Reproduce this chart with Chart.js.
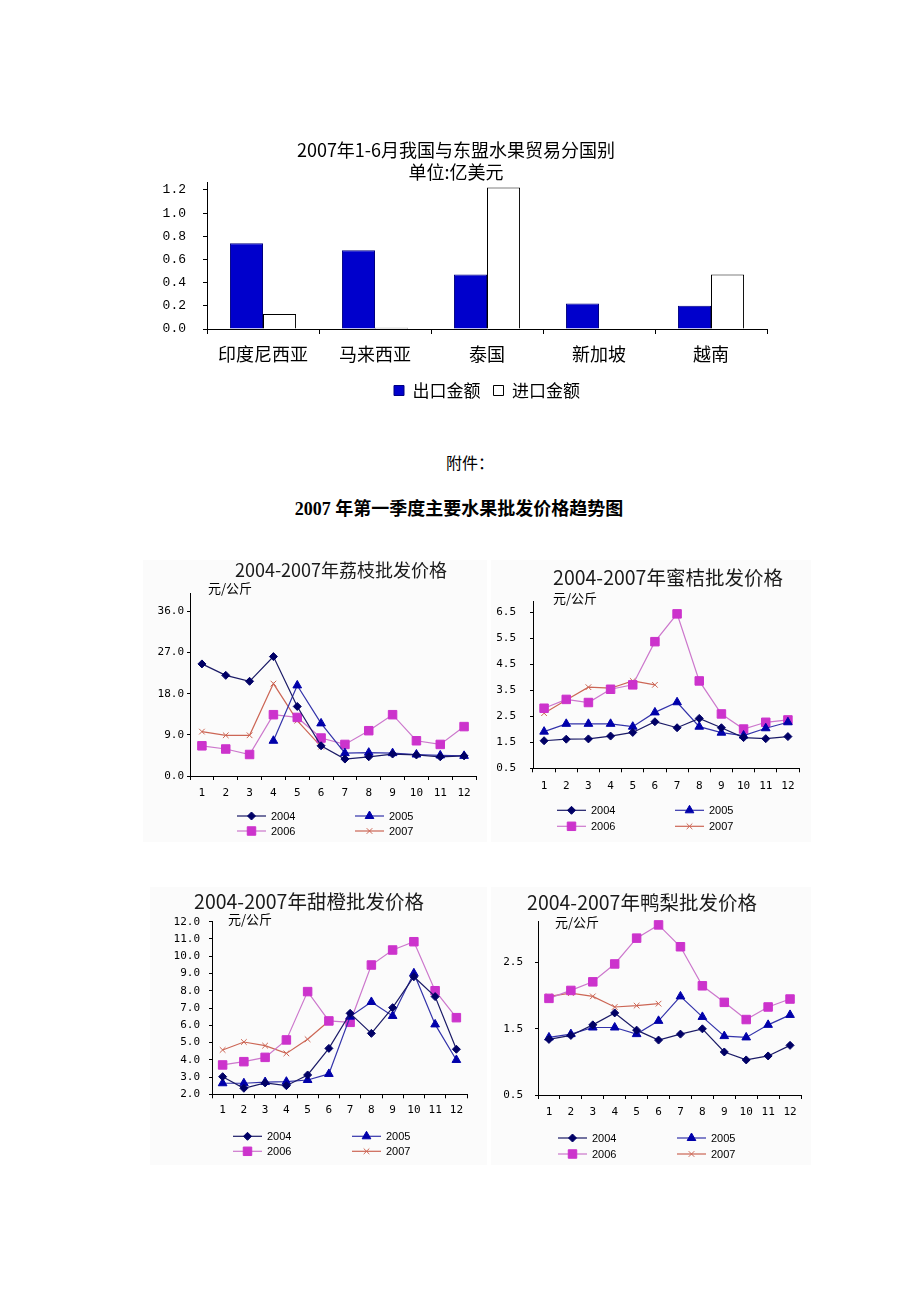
<!DOCTYPE html>
<html>
<head>
<meta charset="utf-8">
<script src="https://cdn.jsdelivr.net/npm/chart.js@4.4.1/dist/chart.umd.min.js"></script>
<style>
  body { margin: 0; background: #fff; width: 920px; height: 1302px; position: relative; overflow: hidden; font-family: "Noto Sans CJK SC", sans-serif; }
  canvas { position: absolute; }
  .panel { position: absolute; background: #fbfbfb; }
  .txt { position: absolute; white-space: nowrap; transform: translate(-50%, -50%); color: #000; }
</style>
</head>
<body>
<div class="panel" style="left:143px;top:560px;width:344px;height:282px"></div>
<div class="panel" style="left:491px;top:560px;width:320px;height:282px"></div>
<div class="panel" style="left:150px;top:887px;width:337px;height:278px"></div>
<div class="panel" style="left:491px;top:887px;width:320px;height:278px"></div>

<canvas id="trade"></canvas>
<div class="txt" style="left:470px;top:462px;font-size:16px">附件：</div>
<div class="txt" style="left:459px;top:507px;font-size:18px;font-weight:bold;font-family:'Liberation Serif','Noto Sans CJK SC',serif">2007 年第一季度主要水果批发价格趋势图</div>

<canvas id="lychee"></canvas>
<canvas id="mandarin"></canvas>
<canvas id="orange"></canvas>
<canvas id="pear"></canvas>

<script>
// ---- trade by country (bar chart) ----
const countries = ['印度尼西亚', '马来西亚', '泰国', '新加坡', '越南'];
const exportValues = [0.74, 0.68, 0.47, 0.22, 0.20];
const importValues = [0.13, 0.01, 1.22, null, 0.47];
const tradeTicks = [0, 0.2, 0.4, 0.6, 0.8, 1.0, 1.2];

// ---- wholesale prices by month ----
const months = ['1', '2', '3', '4', '5', '6', '7', '8', '9', '10', '11', '12'];
const years = ['2004', '2005', '2006', '2007'];

const lychee2004 = [24.5, 22.0, 20.7, 26.1, 15.2, 6.6, 3.7, 4.2, 4.8, 4.6, 4.2, 4.4];
const lychee2005 = [null, null, null, 7.7, 19.8, 11.5, 5.0, 5.1, 5.0, 4.7, 4.5, 4.4];
const lychee2006 = [6.6, 5.9, 4.7, 13.4, 12.8, 8.3, 6.9, 9.9, 13.4, 7.7, 6.9, 10.8];
const lychee2007 = [9.7, 8.9, 8.9, 20.2, 12.1, 6.4];
const lycheeTicks = [0, 9, 18, 27, 36];

const mandarin2004 = [1.56, 1.62, 1.63, 1.74, 1.88, 2.29, 2.06, 2.42, 2.06, 1.68, 1.64, 1.72];
const mandarin2005 = [1.91, 2.21, 2.21, 2.21, 2.10, 2.65, 3.04, 2.10, 1.87, 1.76, 2.04, 2.27];
const mandarin2006 = [2.81, 3.15, 3.03, 3.54, 3.71, 5.37, 6.44, 3.86, 2.59, 2.01, 2.27, 2.36];
const mandarin2007 = [2.62, 3.13, 3.62, 3.58, 3.86, 3.71];
const mandarinTicks = [0.5, 1.5, 2.5, 3.5, 4.5, 5.5, 6.5];

const orange2004 = [3.02, 2.35, 2.66, 2.50, 3.12, 4.66, 6.69, 5.53, 7.02, 8.81, 7.66, 4.61];
const orange2005 = [2.64, 2.64, 2.71, 2.73, 2.83, 3.18, 6.50, 7.35, 6.54, 9.01, 6.05, 3.99];
const orange2006 = [3.70, 3.89, 4.14, 5.15, 7.95, 6.25, 6.17, 9.49, 10.36, 10.84, 8.00, 6.44];
const orange2007 = [4.57, 5.03, 4.82, 4.37, 5.19, 6.25];
const orangeTicks = [2, 3, 4, 5, 6, 7, 8, 9, 10, 11, 12];

const pear2004 = [1.34, 1.40, 1.56, 1.74, 1.48, 1.33, 1.42, 1.50, 1.15, 1.03, 1.09, 1.25];
const pear2005 = [1.37, 1.42, 1.52, 1.52, 1.42, 1.62, 1.99, 1.68, 1.39, 1.37, 1.56, 1.71];
const pear2006 = [1.96, 2.08, 2.21, 2.48, 2.87, 3.07, 2.74, 2.15, 1.90, 1.64, 1.83, 1.95];
const pear2007 = [1.99, 2.04, 1.99, 1.83, 1.85, 1.88];
const pearTicks = [0.5, 1.5, 2.5];

const CJK = '"Noto Sans CJK SC", sans-serif';

function place(id, left, top, w, h) {
  const cv = document.getElementById(id);
  cv.width = w;
  cv.height = h;
  cv.style.left = left + 'px';
  cv.style.top = top + 'px';
  return cv.getContext('2d');
}

// ---------------- bar chart ----------------
new Chart(place('trade', 145, 139, 626, 270), {
  type: 'bar',
  data: {
    labels: countries,
    datasets: [
      { label: '出口金额', data: exportValues, backgroundColor: '#0000cc', borderColor: '#000080', borderWidth: 1 },
      { label: '进口金额', data: importValues, backgroundColor: '#ffffff', borderColor: '#000000', borderWidth: 1 }
    ]
  },
  options: {
    responsive: false,
    animation: false,
    events: [],
    layout: { padding: { left: 0, right: 4, top: 0, bottom: 0 } },
    datasets: { bar: { categoryPercentage: 0.59, barPercentage: 1.0, borderSkipped: 'start' } },
    plugins: {
      title: {
        display: true,
        text: ['2007年1-6月我国与东盟水果贸易分国别', '单位:亿美元'],
        color: '#000',
        font: { family: CJK, size: 18, weight: 'normal', lineHeight: 1.22 },
        padding: { top: 0, bottom: 0 }
      },
      legend: {
        position: 'bottom',
        fullSize: false,
        labels: { boxWidth: 10, boxHeight: 10, padding: 13, color: '#000', font: { family: CJK, size: 17 } }
      },
      tooltip: { enabled: false }
    },
    scales: {
      x: {
        afterFit: s => { s.height = 40; },
        ticks: { color: '#000', font: { family: CJK, size: 18 }, padding: 9, maxRotation: 0 },
        grid: { offset: true, drawOnChartArea: false, tickLength: 5, color: '#000' },
        border: { color: '#000', width: 1 }
      },
      y: {
        min: 0,
        max: 1.26,
        afterBuildTicks: s => { s.ticks = tradeTicks.map(v => ({ value: v })); },
        afterFit: s => { s.width = 62; },
        ticks: { color: '#000', font: { family: '"Liberation Mono", monospace', size: 13 }, padding: 17, callback: v => v.toFixed(1) },
        grid: { drawOnChartArea: false, tickLength: 4, color: '#000' },
        border: { color: '#000', width: 1 }
      }
    }
  }
});

// ---------------- line charts ----------------
const seriesStyle = [
  { borderColor: '#1a1a66', pointStyle: 'rectRot', pointRadius: 4, pointBackgroundColor: '#000066', pointBorderColor: '#000066' },
  { borderColor: '#3333aa', pointStyle: 'triangle', pointRadius: 5, pointBackgroundColor: '#0000aa', pointBorderColor: '#0000aa' },
  { borderColor: '#cc77cc', pointStyle: 'rect', pointRadius: 6, pointBackgroundColor: '#cc33cc', pointBorderColor: '#cc33cc' },
  { borderColor: '#cc6655', pointStyle: 'crossRot', pointRadius: 4, pointBackgroundColor: '#cc6655', pointBorderColor: '#cc6655' }
];

// title, unit label and excel style 2x2 legend (line with marker)
const excelDecor = {
  id: 'excelDecor',
  afterDraw(chart, args, opts) {
    if (!opts || !opts.cols) return;
    const { ctx, chartArea } = chart;
    ctx.save();
    ctx.textBaseline = 'middle';

    ctx.fillStyle = '#1a1a1a';
    ctx.textAlign = 'center';
    ctx.font = opts.titleSize + 'px ' + CJK;
    ctx.fillText(opts.title, opts.titlePos[0], opts.titlePos[1]);

    ctx.fillStyle = '#000';
    ctx.textAlign = 'left';
    ctx.font = '13px ' + CJK;
    ctx.fillText('元/公斤', chartArea.left + opts.unit[0], chartArea.top + opts.unit[1]);

    ctx.font = '11px "Liberation Sans", sans-serif';
    chart.data.datasets.forEach((ds, i) => {
      const x = chartArea.left + opts.cols[i % 2];
      const y = chartArea.bottom + opts.rows[Math.floor(i / 2)];
      const w = 29;
      ctx.strokeStyle = ds.borderColor;
      ctx.lineWidth = ds.borderWidth;
      ctx.beginPath();
      ctx.moveTo(x, y);
      ctx.lineTo(x + w, y);
      ctx.stroke();
      ctx.fillStyle = ds.pointBackgroundColor;
      ctx.strokeStyle = ds.pointBorderColor;
      ctx.lineWidth = 1;
      Chart.helpers.drawPoint(ctx, { pointStyle: ds.pointStyle, radius: ds.pointRadius, rotation: 0, borderWidth: 1 }, x + w / 2, y);
      ctx.fillStyle = '#000';
      ctx.fillText(ds.label, x + w + 5, y + 0.5);
    });
    ctx.restore();
  }
};

function lineChart(id, g, title, yTicks, yMin, yMax, series) {
  const top = Math.floor(g.titleY - 0.6 * g.titleSize);
  const W = Math.ceil(g.ar - g.left) + 10;
  const H = Math.ceil(g.ab - top + 30 + 45);
  const bottomPad = H - (g.ab - top) - 30;
  const yW = g.ax - g.left;

  new Chart(place(id, g.left, top, W, H), {
    type: 'line',
    data: {
      labels: months,
      datasets: series.map((data, i) => Object.assign({
        label: years[i],
        data: data,
        borderWidth: 1.2,
        pointBorderWidth: 1,
        tension: 0,
        clip: false
      }, seriesStyle[i]))
    },
    options: {
      responsive: false,
      animation: false,
      events: [],
      layout: { padding: { left: 0, right: g.left + W - g.ar, top: g.at - top, bottom: bottomPad } },
      plugins: {
        title: { display: false },
        legend: { display: false },
        tooltip: { enabled: false },
        excelDecor: {
          title: title, titleSize: g.titleSize, titlePos: [g.titleX - g.left, g.titleY - top],
          unit: g.unit, cols: g.cols, rows: g.rows
        }
      },
      scales: {
        x: {
          offset: true,
          afterFit: s => { s.height = 30; },
          ticks: { color: '#000', font: { family: '"DejaVu Sans Mono", monospace', size: 11 }, padding: g.xPad, maxRotation: 0, autoSkip: false },
          grid: { offset: true, drawOnChartArea: false, tickLength: 4, color: '#000' },
          border: { color: '#000', width: 1 }
        },
        y: {
          min: yMin,
          max: yMax,
          afterBuildTicks: s => { s.ticks = yTicks.map(v => ({ value: v })); },
          afterFit: s => { s.width = yW; },
          ticks: { color: '#000', font: { family: '"DejaVu Sans Mono", monospace', size: 11 }, padding: g.yPad, callback: v => v.toFixed(1) },
          grid: { drawOnChartArea: false, tickLength: 3, color: '#000' },
          border: { color: '#000', width: 1 }
        }
      }
    },
    plugins: [excelDecor]
  });
}

lineChart('lychee',
  { left: 140, ax: 190, ar: 476, at: 593, ab: 776, titleX: 341, titleY: 570, titleSize: 18, yPad: 3, xPad: 7, unit: [18, -5], cols: [47, 165], rows: [40, 55] },
  '2004-2007年荔枝批发价格', lycheeTicks, 0, 40,
  [lychee2004, lychee2005, lychee2006, lychee2007]);

lineChart('mandarin',
  { left: 490, ax: 533, ar: 799, at: 601.9, ab: 768.3, titleX: 668, titleY: 578, titleSize: 19.5, yPad: 14, xPad: 7, unit: [20, -4], cols: [24, 142], rows: [42, 58] },
  '2004-2007年蜜桔批发价格', mandarinTicks, 0.5, 6.9,
  [mandarin2004, mandarin2005, mandarin2006, mandarin2007]);

lineChart('orange',
  { left: 150, ax: 212, ar: 467, at: 921.7, ab: 1094.3, titleX: 309, titleY: 902, titleSize: 19.5, yPad: 9, xPad: 5, unit: [16, -3], cols: [21, 140], rows: [42, 57] },
  '2004-2007年甜橙批发价格', orangeTicks, 2, 12,
  [orange2004, orange2005, orange2006, orange2007]);

lineChart('pear',
  { left: 470, ax: 538, ar: 801, at: 921.6, ab: 1095, titleX: 642, titleY: 903, titleSize: 19.5, yPad: 12, xPad: 7, unit: [17, 0], cols: [20, 139], rows: [43, 59] },
  '2004-2007年鸭梨批发价格', pearTicks, 0.5, 3.12,
  [pear2004, pear2005, pear2006, pear2007]);
</script>
</body>
</html>
